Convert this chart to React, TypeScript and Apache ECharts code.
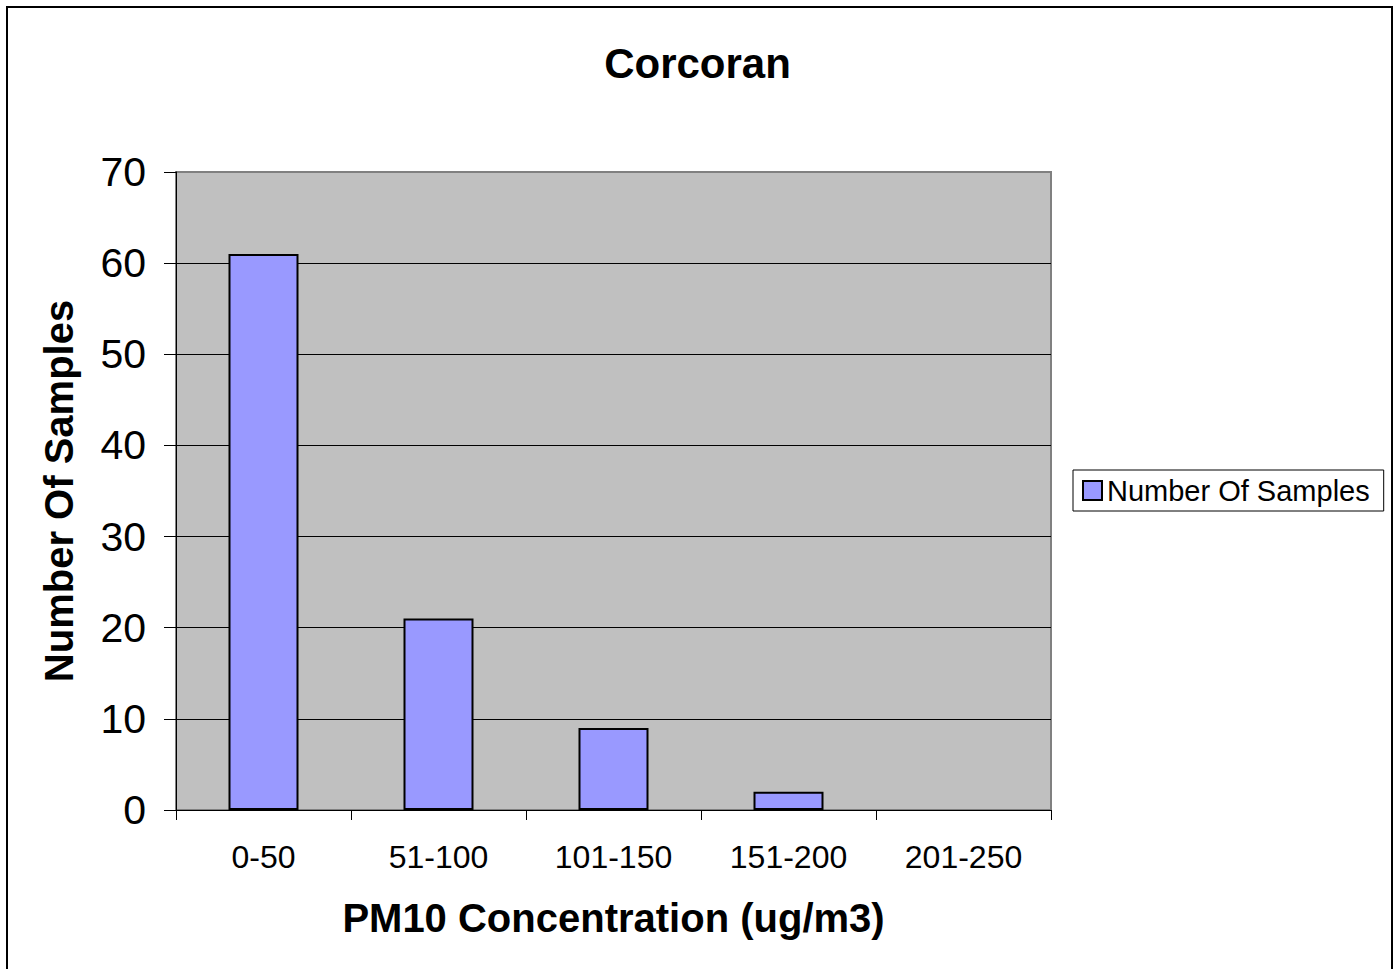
import React, { useEffect, useRef } from "react";
import * as echarts from "echarts";

const categories = ["0-50", "51-100", "101-150", "151-200", "201-250"];
const sampleCounts = [61, 21, 9, 2, 0];
const seriesName = "Number Of Samples";
const chartTitle = "Corcoran";
const xAxisTitle = "PM10 Concentration (ug/m3)";
const yAxisTitle = "Number Of Samples";

const FONT = "'Liberation Sans', Arial, sans-serif";

export default function App() {
  const ref = useRef<HTMLDivElement>(null);
  useEffect(() => {
    if (!ref.current) return;
    const chart = echarts.init(ref.current, null, { renderer: "svg" });
    chart.setOption({
      animation: false,
      backgroundColor: "#ffffff",
      textStyle: { fontFamily: FONT },
      title: {
        text: chartTitle,
        left: "center",
        top: 37,
        textStyle: { fontFamily: FONT, fontSize: 42, fontWeight: "bold", color: "#000" },
      },
      legend: {
        show: true,
        orient: "vertical",
        left: 1073,
        top: 470,
        padding: [6, 14, 6, 9],
        borderColor: "#000",
        borderWidth: 1,
        backgroundColor: "#fff",
        itemWidth: 19,
        itemHeight: 19,
        icon: "rect",
        textStyle: { fontFamily: FONT, fontSize: 29, color: "#000" },
        data: [{ name: seriesName, itemStyle: { color: "#9999FF", borderColor: "#000", borderWidth: 2 } }],
      },
      graphic: [
        {
          type: "rect",
          shape: { x: 7, y: 7, width: 1385, height: 1000 },
          style: { fill: "none", stroke: "#000", lineWidth: 2 },
          silent: true,
          z: 100,
        },
      ],
      grid: {
        left: 176,
        top: 172,
        width: 875,
        height: 638,
        show: true,
        backgroundColor: "#C0C0C0",
        borderColor: "#808080",
        borderWidth: 2,
      },
      xAxis: {
        type: "category",
        data: categories,
        boundaryGap: true,
        name: xAxisTitle,
        nameLocation: "middle",
        nameGap: 88,
        nameTextStyle: { fontFamily: FONT, fontSize: 40, fontWeight: "bold", color: "#000" },
        axisLine: { show: true, lineStyle: { color: "#000", width: 1 } },
        axisTick: { show: true, alignWithLabel: false, length: 10, lineStyle: { color: "#000" } },
        axisLabel: { fontFamily: FONT, fontSize: 32, color: "#000", margin: 31 },
        splitLine: { show: false },
      },
      yAxis: {
        type: "value",
        min: 0,
        max: 70,
        interval: 10,
        name: yAxisTitle,
        nameLocation: "middle",
        nameGap: 97,
        nameRotate: 90,
        nameTextStyle: { fontFamily: FONT, fontSize: 40, fontWeight: "bold", color: "#000" },
        axisLine: { show: true, lineStyle: { color: "#000", width: 1 } },
        axisTick: { show: true, length: 12, lineStyle: { color: "#000" } },
        axisLabel: { fontFamily: FONT, fontSize: 41, color: "#000", margin: 30 },
        splitLine: { show: true, showMaxLine: false, lineStyle: { color: "#000", width: 1 } },
      },
      series: [
        {
          name: seriesName,
          type: "bar",
          data: sampleCounts.map((v) => (v === 0 ? { value: v, itemStyle: { borderWidth: 0 } } : v)),
          barWidth: "40%",
          itemStyle: { color: "#9999FF", borderColor: "#000", borderWidth: 2 },
        },
      ],
    });
    return () => chart.dispose();
  }, []);
  return (
    <div
      ref={ref}
      style={{ position: "fixed", left: 0, top: 0, width: 1395, height: 969 }}
    />
  );
}
